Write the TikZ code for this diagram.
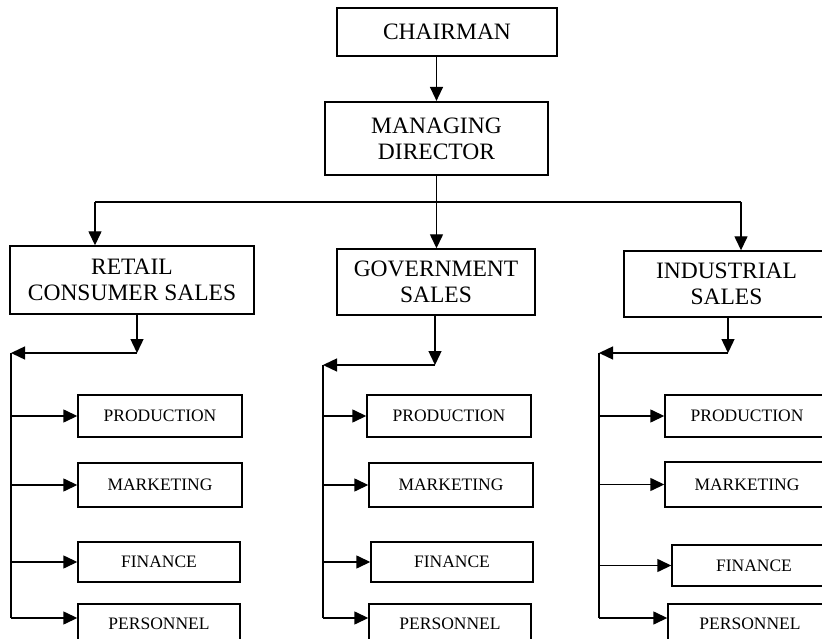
\documentclass[tikz,border=0pt]{standalone}
\usepackage{fontspec}
\setmainfont{Liberation Serif}
\usetikzlibrary{arrows.meta}

\begin{document}
\begin{tikzpicture}[x=1pt,y=-1pt,line width=1.4pt,
  arr/.style={-{Triangle[length=14pt,width=13pt]}},
  bigbox/.style={draw,line width=1.4pt,align=center,inner sep=0pt,font=\fontsize{23.5}{26}\selectfont},
  smallbox/.style={draw,line width=1.4pt,inner sep=0pt,minimum width=164pt,font=\fontsize{17.5}{20}\selectfont}]

\useasboundingbox (0,0) rectangle (822,639);
\clip (0,0) rectangle (822,639);

% top of the chart
\node[bigbox,minimum width=220pt,minimum height=48pt] (chair) at (447,32) {CHAIRMAN};
\node[bigbox,line width=2.2pt,minimum width=223pt,minimum height=73pt] (md) at (436.5,138.5) {MANAGING\\DIRECTOR};
\draw[arr] (md.north |- chair.south) -- (md.north);

% sales divisions
\node[bigbox,minimum width=244pt,minimum height=68pt] (retail) at (132,280) {RETAIL\\CONSUMER SALES};
\node[bigbox,minimum width=198pt,minimum height=66pt] (govt) at (436,282) {GOVERNMENT\\SALES};
\node[bigbox,minimum width=205pt,minimum height=66pt] (indus) at (726.5,284) {INDUSTRIAL\\SALES};

\coordinate (lt) at (95,202);
\coordinate (rt) at (741,202);
\draw (lt) -- (rt);
\draw[arr] (lt) -- (lt |- retail.north);
\draw[arr] (rt) -- (rt |- indus.north);
\draw[arr] (md.south) -- (md.south |- govt.north);

% retail departments
\node[smallbox,minimum height=42pt] (prod1) at (160,416) {PRODUCTION};
\node[smallbox,minimum height=44pt] (mark1) at (160,485) {MARKETING};
\node[smallbox,minimum height=40pt,minimum width=162pt] (fin1) at (159,562) {FINANCE};
\node[smallbox,minimum height=40pt,minimum width=162pt] (pers1) at (159,624) {PERSONNEL};

\coordinate (drop1) at (137,353);
\coordinate (top1) at (11,353);
\coordinate (end1) at (11,618);
\draw[arr] (retail.south -| drop1) -- (drop1);
\draw[arr] (drop1) -- (top1);
\draw (top1) -- (end1);
\draw[arr] (top1 |- prod1) -- (prod1.west);
\draw[arr] (top1 |- mark1) -- (mark1.west);
\draw[arr] (top1 |- fin1) -- (fin1.west);
\draw[arr] (end1) -- (end1 -| pers1.west);

% government departments
\node[smallbox,minimum height=42pt] (prod2) at (449,416) {PRODUCTION};
\node[smallbox,minimum height=44pt] (mark2) at (451,485) {MARKETING};
\node[smallbox,minimum height=40pt,minimum width=162pt] (fin2) at (452,562) {FINANCE};
\node[smallbox,minimum height=40pt,minimum width=162pt] (pers2) at (450,624) {PERSONNEL};

\coordinate (drop2) at (435,365);
\coordinate (top2) at (323,365);
\coordinate (end2) at (323,618);
\draw[arr] (govt.south -| drop2) -- (drop2);
\draw[arr] (drop2) -- (top2);
\draw (top2) -- (end2);
\draw[arr] (top2 |- prod2) -- (prod2.west);
\draw[arr] (top2 |- mark2) -- (mark2.west);
\draw[arr] (top2 |- fin2) -- (fin2.west);
\draw[arr] (end2) -- (end2 -| pers2.west);

% industrial departments
\node[smallbox,minimum height=42pt] (prod3) at (747,416) {PRODUCTION};
\node[smallbox,minimum height=45pt] (mark3) at (747,484.5) {MARKETING};
\node[smallbox,minimum height=41pt] (fin3) at (754,565.5) {FINANCE};
\node[smallbox,minimum height=40pt] (pers3) at (750,624) {PERSONNEL};

\coordinate (drop3) at (728,353);
\coordinate (top3) at (599,353);
\coordinate (end3) at (599,618);
\draw[arr] (indus.south -| drop3) -- (drop3);
\draw[arr] (drop3) -- (top3);
\draw (top3) -- (end3);
\draw[arr] (top3 |- prod3) -- (prod3.west);
\draw[arr] (top3 |- mark3) -- (mark3.west);
\draw[arr] (top3 |- fin3) -- (fin3.west);
\draw[arr] (end3) -- (end3 -| pers3.west);

\end{tikzpicture}
\end{document}
